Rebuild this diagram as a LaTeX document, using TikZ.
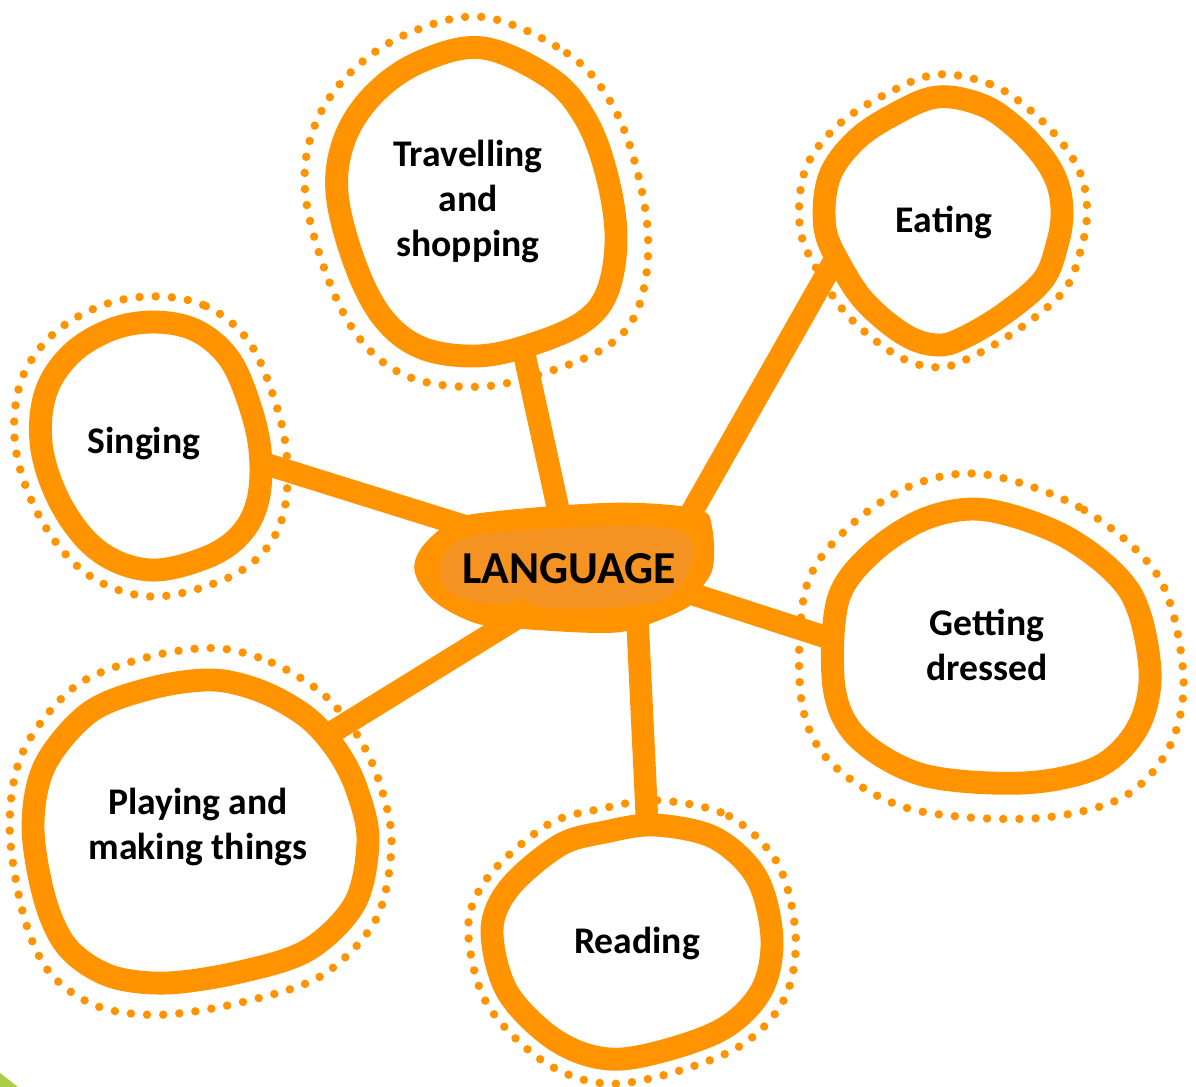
\documentclass[tikz,border=0pt]{standalone}
\usepackage{fontspec}
\setmainfont{Carlito}
\definecolor{blobor}{RGB}{255,148,0}
\definecolor{patchor}{RGB}{244,146,34}
\definecolor{cornergreen}{RGB}{170,206,72}

% centre lines of the bubble rings
\newcommand{\travelblob}{plot[smooth cycle, tension=0.6] coordinates {(483,48) (550,78) (585,118) (606,172) (616,235) (608,290) (583,322) (530,345) (477,356) (422,348) (383,318) (355,264) (337,193) (345,138) (375,93) (422,61)}}
\newcommand{\eatblob}{plot[smooth cycle, tension=0.6] coordinates {(937,97) (982,105) (1015,127) (1043,157) (1058,185) (1062,215) (1057,245) (1043,280) (1005,313) (963,338) (937,345) (905,335) (866,303) (841,266) (825,228) (829,178) (855,141) (893,115)}}
\newcommand{\singblob}{plot[smooth cycle, tension=0.6] coordinates {(153,322) (195,330) (228,357) (248,400) (260,450) (258,500) (240,535) (205,558) (150,570) (100,552) (63,508) (42,450) (45,395) (70,355) (110,330)}}
\newcommand{\dressblob}{plot[smooth cycle, tension=0.55] coordinates {(987,510) (1068,538) (1130,592) (1150,670) (1138,727) (1098,767) (1023,783) (923,775) (858,738) (834,687) (838,600) (873,552) (927,518)}}
\newcommand{\playblob}{plot[smooth cycle, tension=0.55] coordinates {(213,680) (263,692) (308,718) (338,752) (357,790) (368,840) (355,903) (308,950) (240,972) (167,983) (110,976) (68,948) (45,900) (33,827) (45,765) (90,712) (152,688)}}
\newcommand{\readblob}{plot[smooth cycle, tension=0.55] coordinates {(655,825) (715,838) (757,878) (772,940) (760,993) (715,1033) (622,1059) (560,1043) (508,993) (492,930) (510,887) (560,845) (605,832)}}

\tikzset{
  ring/.style={draw=blobor, line width=6.5pt, fill=white},
  dotring/.style={draw=blobor, line width=2.4pt, line cap=round, dash pattern=on 0pt off 4.6pt},
  bubbletext/.style={font=\bfseries\fontsize{10.7}{12.8}\selectfont, align=center},
}

\begin{document}
\begin{tikzpicture}[x=0.01cm, y=-0.01cm]
\useasboundingbox (0,0) rectangle (1196,1087);

% dotted halos
\begin{scope}[shift={(476,202)}, xscale=1.23, yscale=1.2, shift={(-476,-202)}]
    \draw[dotring] \travelblob;
\end{scope}
\begin{scope}[shift={(943,221)}, xscale=1.21, yscale=1.18, shift={(-943,-221)}]
    \draw[dotring] \eatblob;
\end{scope}
\begin{scope}[shift={(150,444)}, xscale=1.24, yscale=1.21, shift={(-150,-444)}]
    \draw[dotring] \singblob;
\end{scope}
\begin{scope}[shift={(991,646)}, xscale=1.21, yscale=1.26, shift={(-991,-646)}]
    \draw[dotring] \dressblob;
\end{scope}
\begin{scope}[shift={(200,832)}, xscale=1.14, yscale=1.21, shift={(-200,-832)}]
    \draw[dotring] \playblob;
\end{scope}
\begin{scope}[shift={(632,942)}, xscale=1.17, yscale=1.21, shift={(-632,-942)}]
    \draw[dotring] \readblob;
\end{scope}

% ends of the spokes
\coordinate (lang-t) at (565,540);
\coordinate (lang-e) at (673,545);
\coordinate (lang-s) at (490,534);
\coordinate (lang-d) at (680,590);
\coordinate (lang-p) at (530,610);
\coordinate (lang-r) at (636,590);
\coordinate (travel-in) at (519,330);
\coordinate (eat-in) at (850,233);
\coordinate (sing-in) at (240,456);
\coordinate (dress-in) at (850,645);
\coordinate (play-in) at (300,752);
\coordinate (read-in) at (648,840);

\begin{scope}[every edge/.style={draw=blobor, line width=6.4pt}]
    \path (lang-t) edge (travel-in);
    \path (lang-e) edge (eat-in);
    \path (lang-s) edge (sing-in);
    \path (lang-d) edge (dress-in);
    \path (lang-p) edge (play-in);
    \path (lang-r) edge (read-in);
\end{scope}

% centre blob
\fill[blobor] plot[smooth cycle, tension=0.6] coordinates {(443,527) (467,515) (567,505) (640,503) (700,510) (712,527) (713,567) (700,590) (688,607) (640,627) (600,633) (500,627) (467,620) (433,600) (415,573) (420,550)};
\fill[patchor] plot[smooth cycle, tension=0.6] coordinates {(440,565) (452,545) (478,535) (555,528) (640,526) (688,535) (690,568) (668,597) (620,607) (548,608) (520,600) (500,604) (468,600) (445,588)};

% bubbles
\draw[ring] \travelblob;
\draw[ring] \eatblob;
\draw[ring] \singblob;
\draw[ring] \dressblob;
\draw[ring] \playblob;
\draw[ring] \readblob;

\fill[cornergreen] (0,1073) -- (18,1087) -- (0,1087) -- cycle;

\begin{scope}[every node/.style={bubbletext}]
    \node (travel) at (468,201) {Travelling\\and\\shopping};
    \node[anchor=base] (eat) at (944,232) {Eating};
    \node[anchor=base] (sing) at (144,453) {Singing};
    \node (dress) at (987,645) {Getting\\dressed};
    \node (play) at (198,827) {Playing and\\making things};
    \node[anchor=base] (read) at (637,953) {Reading};
    \node[anchor=base, font=\bfseries\fontsize{13}{15}\selectfont] (lang) at (569,583) {LANGUAGE};
\end{scope}

\end{tikzpicture}
\end{document}
